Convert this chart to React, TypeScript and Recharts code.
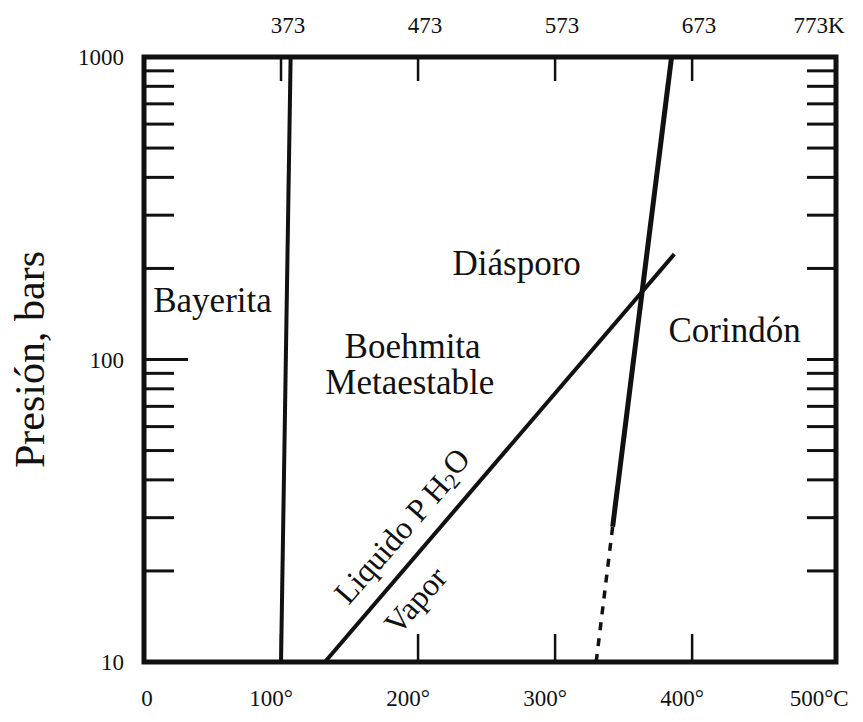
import React from 'react';
import { ComposedChart, Line, XAxis, YAxis, ReferenceArea, ReferenceDot, ReferenceLine } from 'recharts';

// axis ticks
const celsiusTicks = [0, 100, 200, 300, 400, 500];
const celsiusLabels = ['0', '100°', '200°', '300°', '400°', '500°C'];
const kelvinTicks = [100, 200, 300, 400, 500];
const kelvinLabels = ['373', '473', '573', '673', '773K'];
const innerTempTicks = [100, 200, 300, 400];
const pressureTicks = [10, 20, 30, 40, 50, 60, 70, 80, 90, 100, 200, 300, 400, 500, 600, 700, 800, 900, 1000];
const pressureLabels = [10, 100, 1000];

// phase boundaries (t in °C, p in bars)
const bayeritaLine = [{ t: 100, p: 10 }, { t: 107, p: 1000 }];
const vaporLine = [{ t: 132, p: 10 }, { t: 387, p: 223 }];
const corindonLine = [{ t: 342, p: 28 }, { t: 385, p: 1000 }];
const corindonDashed = [{ t: 330, p: 10 }, { t: 342, p: 28 }];

// region names
const regionLabels = [
  { text: 'Bayerita', t: 50, p: 157 },
  { text: 'Diásporo', t: 272, p: 208 },
  { text: 'Boehmita', t: 196, p: 110 },
  { text: 'Metaestable', t: 194, p: 84 },
  { text: 'Corindón', t: 431, p: 125 },
];

const FONT = '"Liberation Serif", "Times New Roman", serif';
const INK = '#111';

const centerText = (children: React.ReactNode, size: number, angle = 0) => (props: any) => {
  const { viewBox } = props;
  const cx = viewBox.x + viewBox.width / 2;
  const cy = viewBox.y + viewBox.height / 2;
  return (
    <text
      x={cx}
      y={cy}
      textAnchor="middle"
      dominantBaseline="central"
      fontFamily={FONT}
      fontSize={size}
      fill={INK}
      transform={angle ? `rotate(${angle} ${cx} ${cy})` : undefined}
    >
      {children}
    </text>
  );
};

// left axis: label outside, tick mark drawn inward from the frame
const LeftTick = (props: any) => {
  const { x, y, payload } = props;
  const v = payload.value;
  const edge = x + 20;
  const len = v === 100 ? 44 : 30;
  return (
    <g>
      {v !== 10 && v !== 1000 && <line x1={edge} x2={edge + len} y1={y} y2={y} stroke={INK} strokeWidth={3} />}
      {pressureLabels.includes(v) && (
        <text x={x} y={y} dy="0.35em" textAnchor="end" fontFamily={FONT} fontSize={23} fill={INK}>
          {v}
        </text>
      )}
    </g>
  );
};

const RightTick = (props: any) => {
  const { x, y, payload } = props;
  const v = payload.value;
  if (v === 10 || v === 1000) return <g />;
  return <line x1={x} x2={x - 29} y1={y} y2={y} stroke={INK} strokeWidth={3} />;
};

const BottomTick = (props: any) => {
  const { x, y, payload } = props;
  const v = payload.value;
  const i = celsiusTicks.indexOf(v);
  return (
    <text x={x + (v === 0 ? 3 : -10)} y={y} dy="0.8em" textAnchor="middle" fontFamily={FONT} fontSize={23} fill={INK}>
      {celsiusLabels[i]}
    </text>
  );
};

const TopTick = (props: any) => {
  const { x, y, payload } = props;
  const v = payload.value;
  const i = kelvinTicks.indexOf(v);
  return (
    <text x={x + (v === 500 ? -10 : 7)} y={y} textAnchor="middle" fontFamily={FONT} fontSize={23} fill={INK}>
      {kelvinLabels[i]}
    </text>
  );
};

const YTitle = (props: any) => {
  const { viewBox } = props;
  const x = viewBox.x - 14;
  const y = viewBox.y + viewBox.height / 2;
  return (
    <text x={x} y={y} textAnchor="middle" dominantBaseline="central" fontFamily={FONT} fontSize={42} fill={INK}
      transform={`rotate(-90 ${x} ${y})`}>
      Presión, bars
    </text>
  );
};

export default function App() {
  return (
    <div style={{ position: 'absolute', left: 0, top: 0, background: '#fff' }}>
      <ComposedChart width={863} height={722} margin={{ top: 17, right: 26, bottom: 10, left: 44 }}>
        <XAxis xAxisId="bottom" dataKey="t" type="number" domain={[0, 505]} ticks={celsiusTicks} interval={0}
          allowDataOverflow height={50} axisLine={false} tickLine={false} tickSize={0} tickMargin={26} tick={<BottomTick />} />
        <XAxis xAxisId="top" orientation="top" dataKey="t" type="number" domain={[0, 505]} ticks={kelvinTicks} interval={0}
          allowDataOverflow height={40} axisLine={false} tickLine={false} tickSize={0} tickMargin={24} tick={<TopTick />} />
        <YAxis yAxisId="left" type="number" scale="log" domain={[10, 1000]} ticks={pressureTicks} interval={0}
          allowDataOverflow width={100} axisLine={false} tickLine={false} tickSize={0} tickMargin={20}
          tick={<LeftTick />} label={{ content: <YTitle /> }} />
        <YAxis yAxisId="right" orientation="right" type="number" scale="log" domain={[10, 1000]} ticks={pressureTicks}
          interval={0} allowDataOverflow width={1} axisLine={false} tickLine={false} tickSize={0} tickMargin={0}
          tick={<RightTick />} />
        {/* short inner ticks at top and bottom: dash, long gap, dash */}
        {innerTempTicks.map((t) => (
          <ReferenceLine key={t} xAxisId="bottom" yAxisId="left" x={t} stroke={INK} strokeWidth={2.5}
            strokeDasharray="28 553 24 1000" />
        ))}
        <ReferenceArea xAxisId="bottom" yAxisId="left" x1={0} x2={505} y1={10} y2={1000} fill="none" stroke={INK}
          strokeWidth={5} ifOverflow="visible" />
        <Line xAxisId="bottom" yAxisId="left" data={bayeritaLine} dataKey="p" stroke={INK} strokeWidth={4} dot={false} isAnimationActive={false} />
        <Line xAxisId="bottom" yAxisId="left" data={vaporLine} dataKey="p" stroke={INK} strokeWidth={4} dot={false} isAnimationActive={false} />
        <Line xAxisId="bottom" yAxisId="left" data={corindonLine} dataKey="p" stroke={INK} strokeWidth={5} dot={false} isAnimationActive={false} />
        <Line xAxisId="bottom" yAxisId="left" data={corindonDashed} dataKey="p" stroke={INK} strokeWidth={3.5} strokeDasharray="8 8" dot={false} isAnimationActive={false} />
        {regionLabels.map((r) => (
          <ReferenceDot key={r.text} xAxisId="bottom" yAxisId="left" x={r.t} y={r.p} r={0} stroke="none"
            label={{ content: centerText(r.text, 35) }} />
        ))}
        <ReferenceDot xAxisId="bottom" yAxisId="left" x={189} y={28} r={0} stroke="none"
          label={{
            content: centerText(
              <>
                Liquido P H<tspan dy="0.3em" fontSize={22}>2</tspan><tspan dy="-0.3em">O</tspan>
              </>,
              32,
              -49,
            ),
          }} />
        <ReferenceDot xAxisId="bottom" yAxisId="left" x={198} y={16} r={0} stroke="none"
          label={{ content: centerText('Vapor', 32, -49) }} />
      </ComposedChart>
    </div>
  );
}
